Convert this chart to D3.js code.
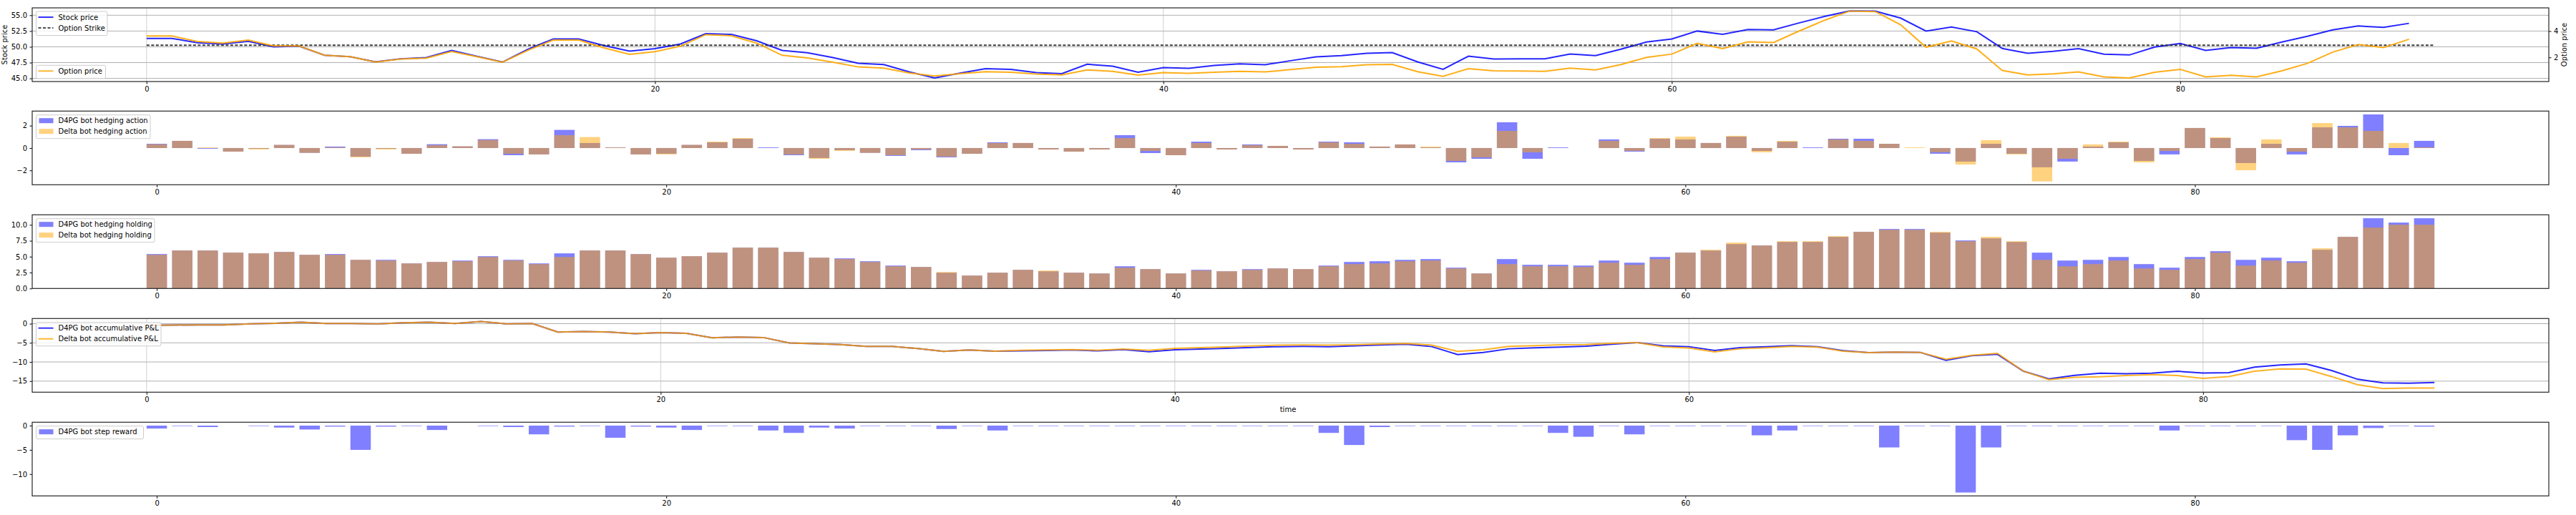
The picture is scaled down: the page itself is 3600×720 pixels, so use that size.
<!DOCTYPE html>
<html><head><meta charset="utf-8">
<script src="https://cdn.jsdelivr.net/npm/d3@7"></script>
<style>body{margin:0;background:#fff}svg{display:block}text{font-family:"DejaVu Sans",sans-serif}</style>
</head><body><svg id="c" width="3600" height="720"></svg>
<script>
const stockPrice=[51.33,51.33,50.65,50.45,50.87,50.0,50.11,48.67,48.44,47.61,48.1,48.3,49.43,48.49,47.58,49.62,51.25,51.25,50.19,49.32,49.7,50.45,52.08,51.97,50.95,49.43,49.06,48.3,47.39,47.2,46.02,45.08,45.83,46.55,46.43,45.93,45.74,47.24,46.93,45.97,46.7,46.59,47.05,47.31,47.16,47.8,48.41,48.6,48.98,49.09,47.61,46.43,48.52,48.07,48.1,48.1,48.86,48.6,49.62,50.76,51.25,52.5,51.97,52.73,52.69,53.78,54.81,55.68,55.65,54.55,52.5,53.14,52.39,49.74,48.98,49.28,49.7,48.83,48.71,49.97,50.53,49.43,49.89,49.77,50.76,51.67,52.69,53.3,53.07,53.72];
const optionPrice=[3.63,3.63,3.21,3.09,3.32,2.87,2.87,2.16,2.05,1.65,1.87,1.94,2.45,2.05,1.63,2.54,3.32,3.32,2.72,2.23,2.43,2.85,3.73,3.65,3.09,2.16,1.96,1.63,1.27,1.18,0.81,0.58,0.76,0.91,0.87,0.73,0.67,1.05,0.94,0.65,0.84,0.78,0.87,0.94,0.89,1.07,1.25,1.29,1.44,1.47,0.91,0.56,1.14,0.98,0.96,0.94,1.18,1.05,1.45,2.0,2.25,3.07,2.67,3.18,3.13,4.0,4.82,5.53,5.49,4.49,2.77,3.25,2.64,1.0,0.67,0.74,0.89,0.51,0.43,0.87,1.09,0.51,0.63,0.52,0.98,1.54,2.4,2.98,2.75,3.38];
const optionStrike=50.25;
const strikeSpan=[0,90];
const d4pgAction=[0.38,0.64,-0.06,-0.32,-0.06,0.28,-0.43,0.13,-0.77,-0.06,-0.51,0.34,0.15,0.79,-0.64,-0.57,1.62,0.45,0.06,-0.57,-0.51,0.28,0.51,0.83,0.06,-0.64,-0.89,-0.19,-0.43,-0.70,-0.19,-0.83,-0.51,0.51,0.45,-0.13,-0.32,-0.13,1.15,-0.45,-0.64,0.57,-0.13,0.32,0.19,-0.13,0.57,0.51,0.13,0.32,0.06,-1.28,-0.96,2.30,-0.96,0.06,0,0.77,-0.32,0.83,0.77,0.45,1.02,-0.26,0.57,0.06,0.83,0.83,0.38,0,-0.51,-1.21,0.38,-0.51,-1.72,-1.21,0.13,0.51,-1.15,-0.57,1.79,0.89,-1.34,0.38,-0.57,1.85,1.98,3.0,-0.64,0.64];
const deltaAction=[0.34,0.64,0.06,-0.32,-0.13,0.28,-0.43,0.06,-0.83,-0.13,-0.51,0.26,0.15,0.72,-0.51,-0.57,1.15,0.98,0.06,-0.57,-0.57,0.28,0.57,0.89,0,-0.57,-0.96,-0.26,-0.43,-0.64,-0.13,-0.77,-0.51,0.45,0.45,-0.13,-0.32,-0.13,0.89,-0.26,-0.64,0.45,-0.13,0.26,0.19,-0.13,0.51,0.38,0.13,0.32,0.13,-1.15,-0.83,1.53,-0.38,0,0,0.64,-0.26,0.89,1.02,0.45,1.09,-0.38,0.64,0,0.77,0.64,0.38,0.06,-0.38,-1.47,0.70,-0.57,-2.98,-0.96,0.32,0.57,-1.28,-0.26,1.79,0.96,-1.98,0.77,-0.32,2.23,1.85,1.53,0.45,0.06];
const d4pgHolding=[5.41,5.97,5.97,5.63,5.52,5.74,5.29,5.41,4.50,4.50,3.94,4.17,4.39,5.07,4.50,3.94,5.52,5.97,5.97,5.41,4.84,5.07,5.63,6.42,6.42,5.74,4.84,4.73,4.28,3.60,3.38,2.48,2.03,2.48,2.93,2.70,2.48,2.36,3.49,3.04,2.36,2.93,2.70,3.04,3.15,3.04,3.60,4.17,4.28,4.50,4.62,3.27,2.36,4.62,3.72,3.72,3.60,4.39,4.05,4.95,5.63,5.97,6.98,6.76,7.32,7.32,8.11,8.90,9.35,9.35,8.78,7.55,7.88,7.32,5.63,4.39,4.50,4.95,3.83,3.27,4.95,5.86,4.50,4.84,4.28,6.08,8.11,11.04,10.36,11.04];
const deltaHolding=[5.29,5.97,5.97,5.63,5.52,5.74,5.29,5.29,4.50,4.39,3.94,4.17,4.28,4.95,4.39,3.83,4.95,5.97,5.97,5.41,4.84,5.07,5.63,6.42,6.42,5.74,4.84,4.62,4.17,3.49,3.38,2.59,2.03,2.48,2.93,2.82,2.48,2.36,3.27,3.04,2.36,2.82,2.70,2.93,3.15,3.04,3.49,3.83,3.94,4.28,4.39,3.15,2.36,3.83,3.49,3.49,3.38,4.05,3.72,4.62,5.63,6.08,7.21,6.76,7.43,7.43,8.22,8.90,9.23,9.23,8.90,7.43,8.11,7.43,4.50,3.49,3.83,4.39,3.15,2.93,4.62,5.63,3.60,4.39,4.05,6.31,8.11,9.57,10.02,10.02];
const d4pgPnl=[-0.44,-0.37,-0.31,-0.31,-0.06,0.12,0.37,0.06,0.06,-0.06,0.25,0.37,0.06,0.56,-0.06,0.06,-2.19,-2.06,-2.19,-2.62,-2.31,-2.5,-3.69,-3.5,-3.62,-5.06,-5.25,-5.44,-5.94,-5.94,-6.5,-7.25,-6.87,-7.19,-7.12,-7.0,-6.87,-7.12,-6.75,-7.31,-6.81,-6.62,-6.44,-6.19,-6.0,-5.94,-6.0,-5.81,-5.56,-5.37,-6.0,-8.06,-7.5,-6.56,-6.31,-6.12,-5.87,-5.37,-4.94,-5.81,-6.0,-7.0,-6.25,-6.0,-5.75,-6.0,-7.06,-7.56,-7.44,-7.5,-9.56,-8.37,-8.0,-12.37,-14.44,-13.5,-12.94,-13.06,-12.94,-12.44,-12.87,-12.81,-11.37,-10.81,-10.5,-12.25,-14.5,-15.44,-15.56,-15.37];
const deltaPnl=[-0.44,-0.37,-0.31,-0.31,-0.06,0.12,0.37,0.06,0.06,-0.06,0.25,0.37,0.06,0.56,-0.06,0.06,-2.19,-2.06,-2.19,-2.62,-2.31,-2.5,-3.69,-3.5,-3.62,-5.06,-5.25,-5.44,-5.94,-5.94,-6.5,-7.25,-6.87,-7.19,-6.94,-6.87,-6.75,-6.94,-6.62,-6.94,-6.44,-6.25,-6.06,-5.81,-5.62,-5.56,-5.62,-5.5,-5.31,-5.19,-5.62,-7.25,-6.81,-5.94,-5.75,-5.5,-5.44,-5.12,-4.94,-6.06,-6.37,-7.37,-6.56,-6.31,-5.94,-6.12,-7.19,-7.56,-7.44,-7.5,-9.31,-8.25,-7.75,-12.37,-14.62,-14.0,-13.87,-13.56,-13.31,-13.56,-14.31,-13.81,-12.44,-11.81,-11.87,-13.81,-15.94,-16.94,-16.81,-16.81];
const d4pgReward=[-0.6,-0.1,-0.3,0,-0.1,-0.4,-0.8,-0.2,-5.0,-0.2,-0.1,-0.9,0,-0.1,-0.3,-1.8,-0.2,-0.1,-2.5,-0.2,-0.4,-0.9,-0.1,-0.1,-1.0,-1.5,-0.4,-0.6,-0.1,-0.1,-0.1,-0.7,-0.1,-1.0,-0.1,-0.1,-0.1,-0.1,-0.1,-0.1,-0.1,-0.1,-0.1,-0.1,-0.1,-0.1,-1.5,-4.0,-0.3,-0.1,-0.1,-0.1,-0.1,-0.1,-0.1,-1.5,-2.3,-0.1,-1.8,-0.1,-0.1,-0.1,-0.1,-2.0,-1.0,-0.1,-0.1,-0.1,-4.5,-0.1,-0.1,-13.8,-4.5,-0.1,-0.1,-0.1,-0.1,-0.1,-0.1,-1.0,-0.1,-0.1,-0.1,-0.1,-3.0,-5.0,-2.0,-0.5,-0.1,-0.2];
const ticksX=[0,20,40,60,80];
const ticksStock=[45.0,47.5,50.0,52.5,55.0];
const ticksOption=[2,4];
const ticksAction=[-2,0,2];
const ticksHolding=[0,2.5,5,7.5,10];
const ticksPnl=[-15,-10,-5,0];
const ticksReward=[-10,-5,0];

const svg=d3.select('#c');
const L=45,R=3562,H=103;
const tops=[11,155.3,300.3,445.3,590.3];
const BLUE='blue',ORANGE='orange';

function frame(g,top){
  g.append('rect').attr('x',L).attr('y',top).attr('width',R-L).attr('height',H)
   .attr('fill','none').attr('stroke','#262626').attr('stroke-width',1.2);
}
function xAxis(top,x,grid){
  const g=svg.append('g').attr('transform',`translate(0,${top+H})`)
   .call(d3.axisBottom(x).tickValues(ticksX).tickFormat(d3.format('d')).tickSize(3.5).tickPadding(3.5));
  g.select('.domain').remove();
  g.selectAll('text').attr('font-size',10).attr('fill','#000');
  g.selectAll('line').attr('stroke','#000');
  if(grid){
    svg.append('g').selectAll('line').data(ticksX).join('line')
     .attr('x1',d=>x(d)).attr('x2',d=>x(d)).attr('y1',top).attr('y2',top+H)
     .attr('stroke','#c4c4c4').attr('stroke-width',0.8);
  }
}
function yAxis(top,y,ticks,fmt,grid){
  const g=svg.append('g').attr('transform',`translate(${L},0)`)
   .call(d3.axisLeft(y).tickValues(ticks).tickFormat(fmt).tickSize(3.5).tickPadding(3.5));
  g.select('.domain').remove();
  g.selectAll('text').attr('font-size',10).attr('fill','#000');
  g.selectAll('line').attr('stroke','#000');
  if(grid){
    svg.append('g').selectAll('line').data(ticks).join('line')
     .attr('x1',L).attr('x2',R).attr('y1',d=>y(d)).attr('y2',d=>y(d))
     .attr('stroke','#b0b0b0').attr('stroke-width',1);
  }
}
function legend(x0,y0,w,h,items){
  const g=svg.append('g');
  g.append('rect').attr('x',x0).attr('y',y0).attr('width',w).attr('height',h).attr('rx',2)
   .attr('fill','#fff').attr('fill-opacity',0.8).attr('stroke','#cccccc').attr('stroke-width',1);
  items.forEach((it,k)=>{
    const cy=y0+8+k*15;
    if(it.type==='line'){
      g.append('line').attr('x1',x0+3).attr('x2',x0+24).attr('y1',cy).attr('y2',cy)
       .attr('stroke',it.color).attr('stroke-width',2).attr('stroke-opacity',it.op||0.8)
       .attr('stroke-dasharray',it.dash||null);
    } else {
      g.append('rect').attr('x',x0+4).attr('y',cy-3.5).attr('width',20).attr('height',7)
       .attr('fill',it.color).attr('fill-opacity',0.5);
    }
    g.append('text').attr('x',x0+31).attr('y',cy).attr('dy','0.35em').attr('font-size',10).text(it.label);
  });
}

// ---------- Panel 1 ----------
{
  const top=tops[0];
  const x=d3.scaleLinear().domain([-4.5,94.5]).range([L,R]);
  const y=d3.scaleLinear().domain([44.5,56.17]).range([top+H,top]);
  const y2=d3.scaleLinear().domain([0.16,5.77]).range([top+H,top]);
  yAxis(top,y,ticksStock,d3.format('.1f'),true);
  xAxis(top,x,true);
  svg.append('path').datum(stockPrice).attr('fill','none').attr('stroke',BLUE).attr('stroke-opacity',0.85).attr('stroke-width',2)
   .attr('d',d3.line().x((d,i)=>x(i)).y(d=>y(d)));
  svg.append('line').attr('x1',x(strikeSpan[0])).attr('x2',x(strikeSpan[1])).attr('y1',y(optionStrike)).attr('y2',y(optionStrike))
   .attr('stroke','#222').attr('stroke-opacity',0.9).attr('stroke-width',2).attr('stroke-dasharray','4,2.5');
  svg.append('path').datum(optionPrice).attr('fill','none').attr('stroke',ORANGE).attr('stroke-opacity',0.9).attr('stroke-width',2)
   .attr('d',d3.line().x((d,i)=>x(i)).y(d=>y2(d)));
  const ga=svg.append('g').attr('transform',`translate(${R},0)`)
   .call(d3.axisRight(y2).tickValues(ticksOption).tickFormat(d3.format('d')).tickSize(3.5).tickPadding(3.5));
  ga.select('.domain').remove();
  ga.selectAll('text').attr('font-size',10);
  frame(svg,top);
  svg.append('text').attr('transform',`translate(10,${top+H/2}) rotate(-90)`).attr('text-anchor','middle').attr('font-size',10).text('Stock price');
  svg.append('text').attr('transform',`translate(3587,${top+H/2}) rotate(-90)`).attr('text-anchor','middle').attr('font-size',10).text('Option price');
  legend(50.5,16,99.5,33.5,[{type:'line',color:BLUE,label:'Stock price'},{type:'line',color:'#222',dash:'4,2.5',label:'Option Strike'}]);
  legend(50.5,91.3,97,18.5,[{type:'line',color:ORANGE,label:'Option price'}]);
}
// ---------- bar panels ----------
function barPanel(top,dom,series,ticks,fmt,legW){
  const x=d3.scaleLinear().domain([-4.89,93.89]).range([L,R]);
  const y=d3.scaleLinear().domain(dom).range([top+H,top]);
  yAxis(top,y,ticks,fmt,false);
  xAxis(top,x,false);
  series.forEach(s=>{
    svg.append('g').selectAll('rect').data(s.vals).join('rect')
     .attr('x',(d,i)=>x(i-0.4)).attr('width',x(0.8)-x(0))
     .attr('y',d=>y(Math.max(0,d))).attr('height',d=>Math.abs(y(d)-y(0)))
     .attr('fill',s.color).attr('fill-opacity',0.5);
  });
  frame(svg,top);
  legend(50.5,top+5.4,legW,series.length*15+3,series.map(s=>({type:'patch',color:s.color,label:s.label})));
}
barPanel(tops[1],[-3.28,3.30],[{vals:d4pgAction,color:BLUE,label:'D4PG bot hedging action'},{vals:deltaAction,color:ORANGE,label:'Delta bot hedging action'}],ticksAction,d3.format('d'),159.5);
barPanel(tops[2],[0,11.58],[{vals:d4pgHolding,color:BLUE,label:'D4PG bot hedging holding'},{vals:deltaHolding,color:ORANGE,label:'Delta bot hedging holding'}],ticksHolding,d3.format('.1f'),165.5);
// ---------- Panel 4 ----------
{
  const top=tops[3];
  const x=d3.scaleLinear().domain([-4.45,93.45]).range([L,R]);
  const y=d3.scaleLinear().domain([-17.9,1.35]).range([top+H,top]);
  yAxis(top,y,ticksPnl,d3.format('d'),true);
  xAxis(top,x,true);
  svg.append('path').datum(d4pgPnl).attr('fill','none').attr('stroke',BLUE).attr('stroke-opacity',0.85).attr('stroke-width',2)
   .attr('d',d3.line().x((d,i)=>x(i)).y(d=>y(d)));
  svg.append('path').datum(deltaPnl).attr('fill','none').attr('stroke',ORANGE).attr('stroke-opacity',0.85).attr('stroke-width',2)
   .attr('d',d3.line().x((d,i)=>x(i)).y(d=>y(d)));
  frame(svg,top);
  legend(50.5,top+5.4,174.5,33,[{type:'line',color:BLUE,label:'D4PG bot accumulative P&L'},{type:'line',color:ORANGE,label:'Delta bot accumulative P&L'}]);
  svg.append('text').attr('x',1800).attr('y',576).attr('text-anchor','middle').attr('font-size',10).text('time');
}
barPanel(tops[4],[-14.5,0.7],[{vals:d4pgReward,color:BLUE,label:'D4PG bot step reward'}],ticksReward,d3.format('d'),150);
</script></body></html>
